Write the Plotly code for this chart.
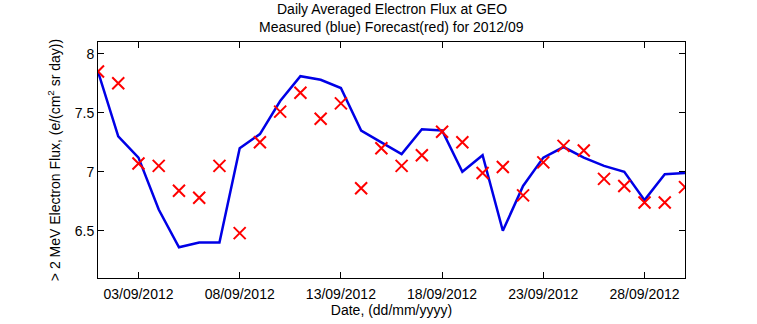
import plotly.graph_objects as go

# Daily values for September 2012
days = [f"2012-09-{d:02d}" for d in range(1, 31)]

measured = [7.85, 7.30, 7.12, 6.68, 6.36, 6.40, 6.40, 7.20, 7.32, 7.60,
            7.81, 7.78, 7.71, 7.35, 7.25, 7.15, 7.36, 7.35, 7.00, 7.14,
            6.50, 6.88, 7.12, 7.21, 7.12, 7.05, 7.00, 6.76, 6.98, 6.99]

forecast = [7.85, 7.75, 7.07, 7.05, 6.84, 6.78, 7.05, 6.48, 7.25, 7.51,
            7.67, 7.45, 7.58, 6.86, 7.20, 7.05, 7.14, 7.34, 7.25, 6.99,
            7.04, 6.80, 7.08, 7.22, 7.18, 6.94, 6.88, 6.74, 6.74, 6.87]

x_ticks = ["2012-09-03", "2012-09-08", "2012-09-13", "2012-09-18", "2012-09-23", "2012-09-28"]
y_ticks = [6.5, 7, 7.5, 8]

title_lines = ["Daily Averaged Electron Flux at GEO",
               "Measured (blue) Forecast(red) for 2012/09"]

font = "Liberation Sans, Arial, sans-serif"
FS = 14

fig = go.Figure()
fig.add_trace(go.Scatter(x=days, y=measured, mode="lines",
                         line=dict(color="#0000e6", width=2.5)))
fig.add_trace(go.Scatter(x=days, y=forecast, mode="markers",
                         marker=dict(symbol="x-thin", size=12,
                                     line=dict(color="#ff0000", width=2))))

fig.update_layout(
    width=757, height=324,
    margin=dict(l=98, r=72, t=42, b=46),
    paper_bgcolor="white", plot_bgcolor="white",
    showlegend=False,
    font=dict(family=font, size=FS, color="black"),
)

# Two-line heading, centred over the axes
for text, ypos in zip(title_lines, [1.138, 1.064]):
    fig.add_annotation(text=text, xref="paper", yref="paper", x=0.5, y=ypos,
                       xanchor="center", yanchor="middle", showarrow=False,
                       font=dict(family=font, size=FS, color="black"))

fig.update_xaxes(
    range=["2012-09-01", "2012-09-30"],
    tickvals=x_ticks, tickformat="%d/%m/%Y",
    tickfont=dict(family=font, size=FS), ticklabelstandoff=3,
    ticks="inside", ticklen=6, tickcolor="black",
    showline=True, linecolor="black", linewidth=1, mirror="ticks",
    showgrid=False, zeroline=False,
    title=dict(text="Date, (dd/mm/yyyy)", standoff=1, font=dict(family=font, size=FS)),
)
fig.update_yaxes(
    range=[6.1, 8.1],
    tickvals=y_ticks, ticktext=["6.5", "7", "7.5", "8"],
    tickfont=dict(family=font, size=FS),
    ticks="inside", ticklen=6, tickcolor="black",
    showline=True, linecolor="black", linewidth=1, mirror="ticks",
    showgrid=False, zeroline=False,
    title=dict(text="> 2 MeV Electron Flux, (e/(cm<sup>2</sup> sr day))", standoff=10,
               font=dict(family=font, size=FS)),
)

fig.write_html("out.html")
